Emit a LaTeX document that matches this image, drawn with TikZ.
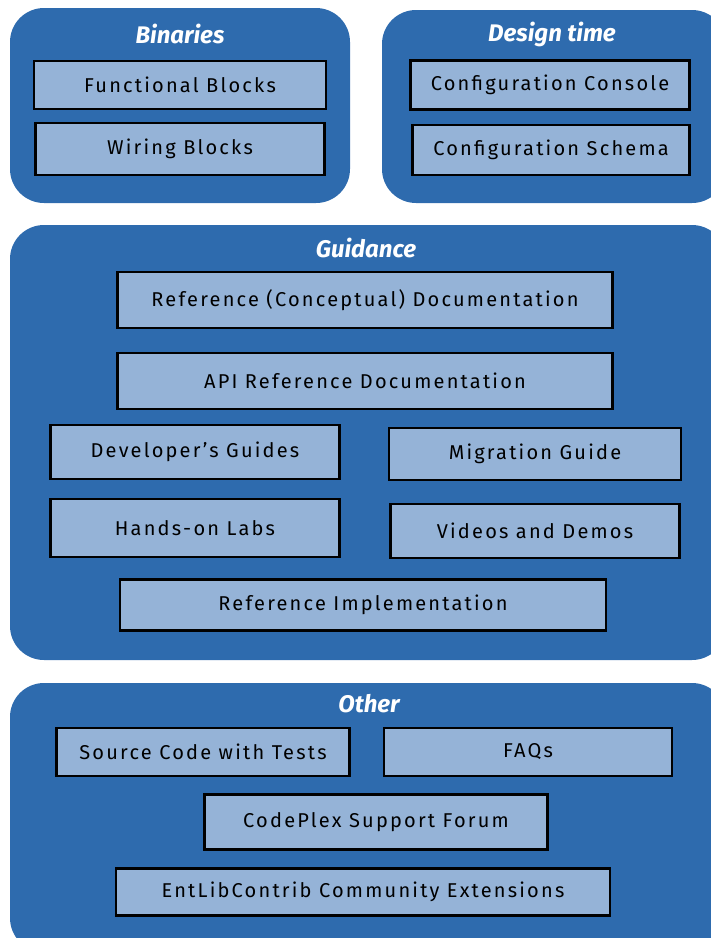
\documentclass[tikz,border=0pt]{standalone}
\usepackage{fontspec}
\setmainfont{Fira Sans}
\newfontfamily\sketchfont[LetterSpace=11]{Fira Sans}
\usepackage{xcolor}
\definecolor{panelblue}{HTML}{2E6BAE}
\definecolor{itemblue}{HTML}{95B3D7}

\begin{document}
\begin{tikzpicture}[x=1pt, y=-1pt,
    panel/.style={fill=panelblue, draw=none, rounded corners=34pt},
    item/.style={fill=itemblue, draw=black, line width=2.4pt, inner sep=0pt,
        font=\sketchfont\fontsize{20}{24}\selectfont},
    heading/.style={text=white, font=\fontsize{24}{28}\selectfont\bfseries\itshape}]
    \useasboundingbox (0,0) rectangle (711,938);
    \clip (0,0) rectangle (711,938);
    % panels
    \fill[panel] (10,8) rectangle (350,203);
    \fill[panel] (382,10) rectangle (726,203);
    \fill[panel] (10,225) rectangle (726,660);
    \fill[panel] (10,683) rectangle (726,952);
    \node[heading] (binaries) at (180,34) {Binaries};
    \node[heading] (designtime) at (552,34) {Design time};
    \node[heading] (guidance) at (366,248) {Guidance};
    \node[heading] (other) at (369,704) {Other};
    % boxes
    \foreach \name/\x/\y/\w/\h/\txt in {
        funcblocks/180/85/292/48/Functional Blocks,
        wireblocks/180/149/289/52/Wiring Blocks,
        confconsole/550/85/279/49/Configuration Console,
        confschema/551/150/277/50/Configuration Schema,
        refdocs/365/300/495/56/Reference (Conceptual) Documentation,
        apidocs/365/381/495/56/API Reference Documentation,
        devguides/195/452/289/54/Developer’s Guides,
        migguide/535/454/292/52/Migration Guide,
        labs/195/528/289/58/Hands-on Labs,
        videos/535/531/289/54/Videos and Demos,
        refimpl/363/605/486/51/Reference Implementation,
        sourcecode/203/752/293/48/Source Code with Tests,
        faqs/528/752/288/48/FAQs,
        forum/376/822/343/55/CodePlex Support Forum,
        entlib/363/892/494/47/EntLibContrib Community Extensions}
        \node[item, minimum width=\w pt, minimum height=\h pt] (\name) at (\x,\y) {\txt};
\end{tikzpicture}
\end{document}
